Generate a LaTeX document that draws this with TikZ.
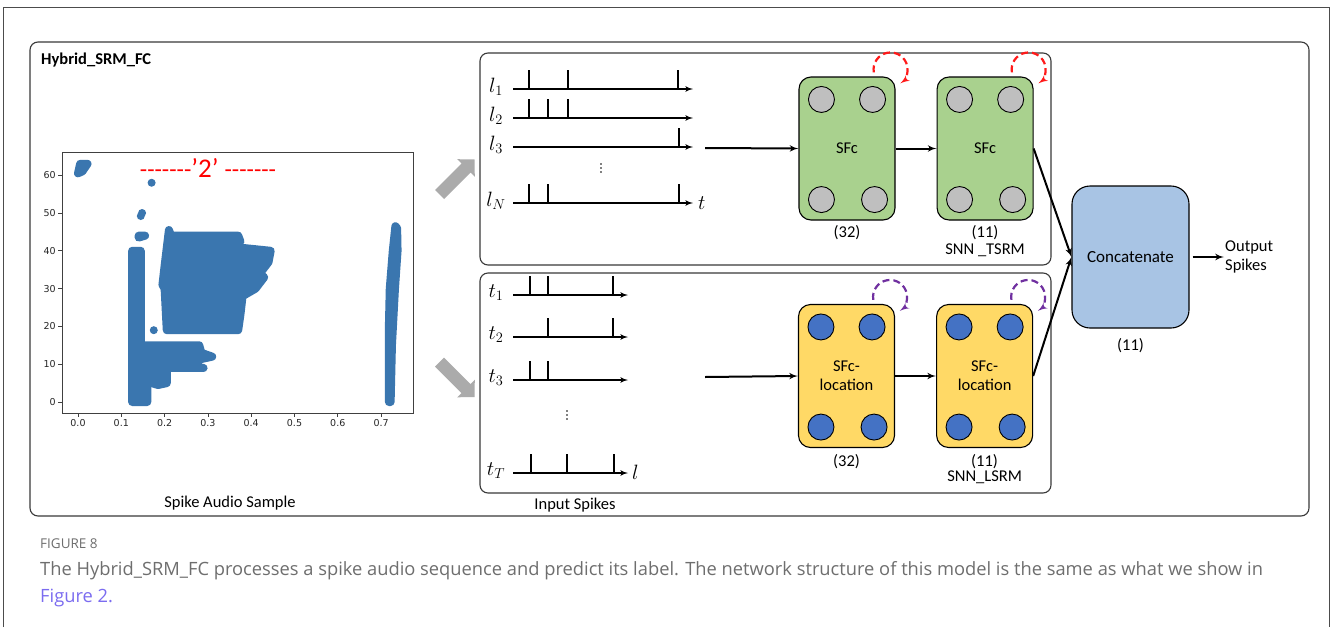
\documentclass[tikz,border=0pt]{standalone}
\usepackage{fontspec}
\setmainfont{Carlito}
\newfontfamily\tickfont{DejaVu Sans}
\newfontfamily\capfont{Open Sans}
\usepackage{tikz}
\usetikzlibrary{shapes,arrows,calc,positioning}
\definecolor{layergreen}{HTML}{A9D18E}
\definecolor{locyellow}{HTML}{FFD966}
\definecolor{concatblue}{HTML}{A8C4E4}
\definecolor{neurongray}{HTML}{BFBFBF}
\definecolor{neuronblue}{HTML}{4472C4}
\definecolor{plotblue}{HTML}{3A76AF}
\definecolor{recurred}{HTML}{FF1A1A}
\definecolor{recurpurple}{HTML}{7030A0}
\definecolor{fatgray}{HTML}{ABABAB}
\definecolor{capgray}{HTML}{6E6E6E}
\definecolor{linkblue}{HTML}{7B6CF0}
\definecolor{framegray}{HTML}{3A3A3A}
\tikzstyle{line} = [draw, -latex', line width=2pt]
\tikzstyle{train} = [draw, -latex', line width=1.6pt]
\tikzstyle{spike} = [draw, line width=1.4pt]
\tikzstyle{panel} = [draw=framegray, rounded corners=8pt, line width=1.1pt]
\tikzstyle{layer} = [draw, rectangle, text centered, align=center, rounded corners=12pt, minimum width=96pt, minimum height=143pt, line width=1.1pt, font=\fontsize{16.5}{19}\selectfont]
\tikzstyle{neuron} = [draw, circle, minimum size=26pt, inner sep=0pt, line width=0.9pt]
\tikzstyle{recur} = [draw, -latex', line width=2.2pt, dash pattern=on 7pt off 4pt]
\tikzstyle{label} = [font=\fontsize{16.5}{19}\selectfont, inner sep=1pt]
\tikzstyle{tick} = [font=\tickfont\fontsize{9.5}{11}\selectfont, text=black!85, inner sep=2pt]
\tikzstyle{blob} = [fill=plotblue, draw=plotblue, line width=8pt, line join=round]
\tikzstyle{mathlab} = [font=\fontsize{22}{24}\selectfont, inner sep=0pt]

\begin{document}
\begin{tikzpicture}[x=1pt, y=-1pt, node distance=41pt, auto]
    \useasboundingbox (0,0) rectangle (1333,627);
    \fill[white] (0,0) rectangle (1333,627);
    \draw[black!70, line width=1pt] (3,627) -- (3,7) -- (1329,7) -- (1329,627);
    \draw[panel] (30,42) rectangle (1309,516);
    \node[label, anchor=west, font=\bfseries\fontsize{16.5}{19}\selectfont] (title) at (40,60) {Hybrid\_SRM\_FC};

    % spike raster of the audio sample
    \draw[black!75, line width=0.8pt] (62,152) rectangle (413,413);
    \foreach \v in {0,10,...,60}
        \draw[black!75, line width=0.8pt] (62,{402-3.78*\v}) -- ++(-4,0) node[tick, left] (yt\v) {\v};
    \foreach \i in {0,...,7}
        \draw[black!75, line width=0.8pt] ({78+43.3*\i},413) -- ++(0,4) node[tick, below] (xt\i) {0.\i};
    \begin{scope}[shift={(78,402)}, x=433pt, y=3.78pt]
        \path[blob] (0,60.5) -- (0.005,63) -- (0.022,63) -- (0.01,61) -- cycle;
        \fill[plotblue] (0.17,58) circle (4pt) (0.148,50) circle (4pt) (0.145,49.2) circle (4pt)
            (0.175,19) circle (4pt);
        \path[blob] (0.14,43.5) -- (0.155,44) -- (0.14,44) -- cycle;
        \path[blob] (0.125,0) -- (0.125,40) -- (0.145,40) -- (0.145,15) -- (0.16,12) -- (0.16,0) -- cycle;
        \path[blob] (0.15,15) -- (0.28,15) -- (0.285,13) -- (0.31,12) -- (0.27,11) -- (0.25,10)
            -- (0.29,9) -- (0.205,9) -- (0.205,5) -- (0.185,4.5) -- (0.17,5) -- (0.15,5) -- cycle;
        \path[blob] (0.205,19) -- (0.2,30) -- (0.195,31) -- (0.2,36) -- (0.21,45.5) -- (0.215,44)
            -- (0.37,44) -- (0.375,42.5) -- (0.36,41) -- (0.445,40) -- (0.44,37) -- (0.42,34)
            -- (0.43,33) -- (0.41,30) -- (0.38,28) -- (0.375,23) -- (0.37,19) -- cycle;
        \path[blob] (0.718,0) -- (0.718,20) -- (0.72,30) -- (0.727,40) -- (0.733,46.5)
            -- (0.737,46) -- (0.738,40) -- (0.732,30) -- (0.725,15) -- (0.722,0) -- cycle;
    \end{scope}
    \node[text=red, inner sep=0pt] (digit) at (208,168)
        {\fontsize{24}{26}\selectfont-\kern0pt-\kern0pt-\kern0pt-\kern0pt-\kern0pt-\kern0pt-\kern0pt\fontsize{27}{28}\selectfont’2’ \fontsize{24}{26}\selectfont-\kern0pt-\kern0pt-\kern0pt-\kern0pt-\kern0pt-\kern0pt-};
    \node[label] (sample) at (230,503) {Spike Audio Sample};

    \fill[fatgray] (435,190) -- (461.5,163.5) -- (457.2,159.2) -- (474.5,159.5) -- (474.8,176.8) -- (470.5,172.5) -- (444,199) -- cycle;
    \fill[fatgray] (435,366.5) -- (461.5,393) -- (457.2,397.3) -- (474.5,397) -- (474.8,379.7) -- (470.5,384) -- (444,357.5) -- cycle;

    % input spike trains
    \draw[panel] (480,53) rectangle (1051,265);
    \draw[panel] (480,273) rectangle (1051,493);
    \foreach \yy/\nm/\sp [count=\i] in {89/l_1/{529,568,678}, 118/l_2/{529,548,568}, 147/l_3/{679}, 203/l_N/{529,548,679}} {
        \node[mathlab] (l\i) at (496,\yy-2) {$\nm$};
        \path[train] (513,\yy) -- (693,\yy);
        \foreach \s in \sp
            \path[spike] (\s,\yy) -- ++(0,-19);
    }
    \node[mathlab, anchor=west] (tax) at (698,203) {$t$};
    \foreach \k in {-4,0,4}
        \fill (601,168+\k) circle (0.9pt);
    \foreach \yy/\nm/\sp [count=\i] in {295/t_1/{530,548,613}, 337/t_2/{548,613}, 380/t_3/{530,548}, 473/t_T/{531,567,614}} {
        \node[mathlab] (t\i) at (496,\yy-2) {$\nm$};
        \path[train] (513,\yy) -- (628,\yy);
        \foreach \s in \sp
            \path[spike] (\s,\yy) -- ++(0,-19);
    }
    \node[mathlab, anchor=west] (lax) at (632,472) {$l$};
    \foreach \k in {-4,0,4}
        \fill (567,415+\k) circle (0.9pt);
    \node[label] (input) at (575,505) {Input Spikes};

    % SNN layers
    \node[layer, fill=layergreen] (sfc1) at (847,148.5) {SFc};
    \node[layer, fill=layergreen, right=of sfc1] (sfc2) {SFc};
    \node[layer, fill=locyellow] (loc1) at (846.5,376) {SFc-\\location};
    \node[layer, fill=locyellow, right=of loc1] (loc2) {SFc-\\location};
    \foreach \b in {sfc1,sfc2}
        \foreach \dx/\dy/\c in {23/23/north west, -23/23/north east, 23/-21/south west, -21/-21/south east}
            \node[neuron, fill=neurongray] at ($(\b.\c)+(\dx,\dy)$) {};
    \foreach \b in {loc1,loc2}
        \foreach \dx/\dy/\c in {23/23/north west, -23/23/north east, 23/-21/south west, -21/-21/south east}
            \node[neuron, fill=neuronblue] at ($(\b.\c)+(\dx,\dy)$) {};
    \foreach \b in {sfc1,sfc2}
        \path[recur, recurred] ($(\b.north east)+(-5,-7)$) ++(170:17) arc (170:415:17);
    \foreach \b in {loc1,loc2}
        \path[recur, recurpurple] ($(\b.north east)+(-5,-7)$) ++(170:17) arc (170:415:17);
    \node[label, below=4pt of sfc1] (n32a) {(32)};
    \node[label, below=4pt of sfc2] (n11a) {(11)};
    \node[label, below=1pt of n11a] (tsrm) {SNN \_TSRM};
    \node[label, below=5pt of loc1] (n32b) {(32)};
    \node[label, below=5pt of loc2] (n11b) {(11)};
    \node[label, below=0pt of n11b] (lsrm) {SNN\_LSRM};

    \node[layer, fill=concatblue, minimum width=117pt, minimum height=142pt, rounded corners=18pt, font=\fontsize{17}{19}\selectfont] (concat) at (1130.5,257) {Concatenate};
    \node[label, below=9pt of concat] (n11c) {(11)};
    \node[label, anchor=west, align=left, font=\fontsize{16.5}{19}\selectfont] (out) at (1224,257) {Output\\Spikes};

    \coordinate (intop) at (705,148);
    \coordinate (inbot) at (705,377);
    \path[line] (intop) -- (sfc1.west);
    \path[line] (sfc1) -- (sfc2);
    \path[line] (inbot) -- (loc1.west);
    \path[line] (loc1) -- (loc2);
    \path[line] (sfc2.east) -- (concat.west);
    \path[line] (loc2.east) -- (concat.west);
    \path[line] ([xshift=3pt]concat.east) -- (out.west);

    % caption
    \node[anchor=west, text=capgray, font=\capfont\fontsize{13.5}{15}\selectfont, inner sep=0pt] (fig) at (40,544) {FIGURE 8};
    \node[anchor=west, text=capgray, font=\capfont\fontsize{18.3}{21}\selectfont, inner sep=0pt] (cap) at (40,571)
        {The Hybrid\_SRM\_FC processes a spike audio sequence and predict its label. The network structure of this model is the same as what we show in};
    \node[anchor=west, text=linkblue, font=\capfont\fontsize{18.3}{21}\selectfont, inner sep=0pt] (ref) at (40,598) {Figure 2.};
\end{tikzpicture}
\end{document}
